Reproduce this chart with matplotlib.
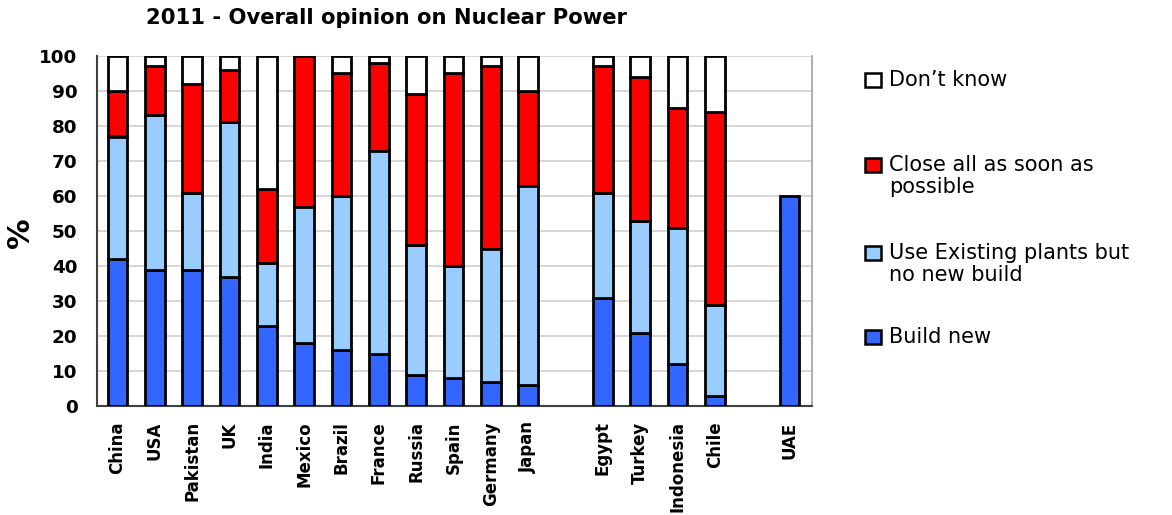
import matplotlib.pyplot as plt
import numpy as np

plt.rcParams['font.family'] = ['DejaVu Sans']

countries = ['China', 'USA', 'Pakistan', 'UK', 'India', 'Mexico', 'Brazil', 'France',
             'Russia', 'Spain', 'Germany', 'Japan',
             'Egypt', 'Turkey', 'Indonesia', 'Chile',
             'UAE']
group_sizes = [12, 4, 1]

build_new = [42, 39, 39, 37, 23, 18, 16, 15, 9, 8, 7, 6, 31, 21, 12, 3, 60]
use_existing = [35, 44, 22, 44, 18, 39, 44, 58, 37, 32, 38, 57, 30, 32, 39, 26, 0]
close_all = [13, 14, 31, 15, 21, 43, 35, 25, 43, 55, 52, 27, 36, 41, 34, 55, 0]
dont_know = [10, 3, 8, 4, 38, 0, 5, 2, 11, 5, 3, 10, 3, 6, 15, 16, 0]

series = [
    ('Build new', build_new, '#3366FF'),
    ('Use Existing plants but\nno new build', use_existing, '#99CCFF'),
    ('Close all as soon as\npossible', close_all, '#FF0000'),
    ('Don\u2019t know', dont_know, '#FFFFFF'),
]

# x positions with a one-slot gap between groups
pos = []
start = 0
for n in group_sizes:
    pos += list(range(start, start + n))
    start += n + 1
pos = np.array(pos, dtype=float)

W, H = 1172, 515
fig = plt.figure(figsize=(W / 100, H / 100), dpi=100)
ax = fig.add_axes([97 / W, 109 / H, 715 / W, 350 / H])

bottom = np.zeros(len(countries))
for name, vals, col in series:
    vals = np.array(vals, dtype=float)
    mask = vals > 0
    ax.bar(pos[mask], vals[mask], width=0.53, bottom=bottom[mask], color=col,
           edgecolor='black', linewidth=2, zorder=3)
    bottom += vals

ax.set_ylim(0, 100)
ax.set_xlim(pos[0] - 0.55, pos[-1] + 0.6)
ax.set_yticks(range(0, 101, 10))
ax.set_yticklabels([str(v) for v in range(0, 101, 10)], fontsize=13.2, fontweight='bold')
ax.set_xticks(pos)
ax.set_xticklabels(countries, rotation=90, fontsize=12, fontweight='bold')
ax.tick_params(axis='both', length=0)
ax.tick_params(axis='x', pad=11)
ax.tick_params(axis='y', pad=14)
ax.yaxis.grid(True, color='#D0D0D0', linewidth=1.2, zorder=0)
ax.set_axisbelow(True)
ax.spines['top'].set_visible(False)
ax.spines['right'].set_color('#A0A0A0')
ax.spines['right'].set_linewidth(1.2)
ax.spines['left'].set_color('#404040')
ax.spines['bottom'].set_color('#404040')
ax.spines['left'].set_linewidth(1.5)
ax.spines['bottom'].set_linewidth(1.5)

fig.text(21 / W, 1 - 233 / H, '%', rotation=90, ha='center', va='center',
         fontsize=22, fontweight='bold')
fig.text(386 / W, 1 - 18 / H, '2011 - Overall opinion on Nuclear Power', ha='center', va='center',
         fontsize=15.2, fontweight='bold')

# legend, top to bottom; square sits on the first text line
legend_y = [80, 165, 253, 337]
line_gap = 22
for (name, vals, col), y in zip(reversed(series), legend_y):
    n_lines = name.count('\n') + 1
    fig.patches.append(plt.Rectangle((865 / W, 1 - (y + 7) / H), 16 / W, 14 / H,
                                     transform=fig.transFigure, facecolor=col,
                                     edgecolor='black', linewidth=1.8))
    yc = y + (n_lines - 1) * line_gap / 2
    fig.text(889 / W, 1 - yc / H, name, ha='left', va='center', fontsize=15,
             linespacing=1.15)

fig.savefig('out.png', dpi=100)
